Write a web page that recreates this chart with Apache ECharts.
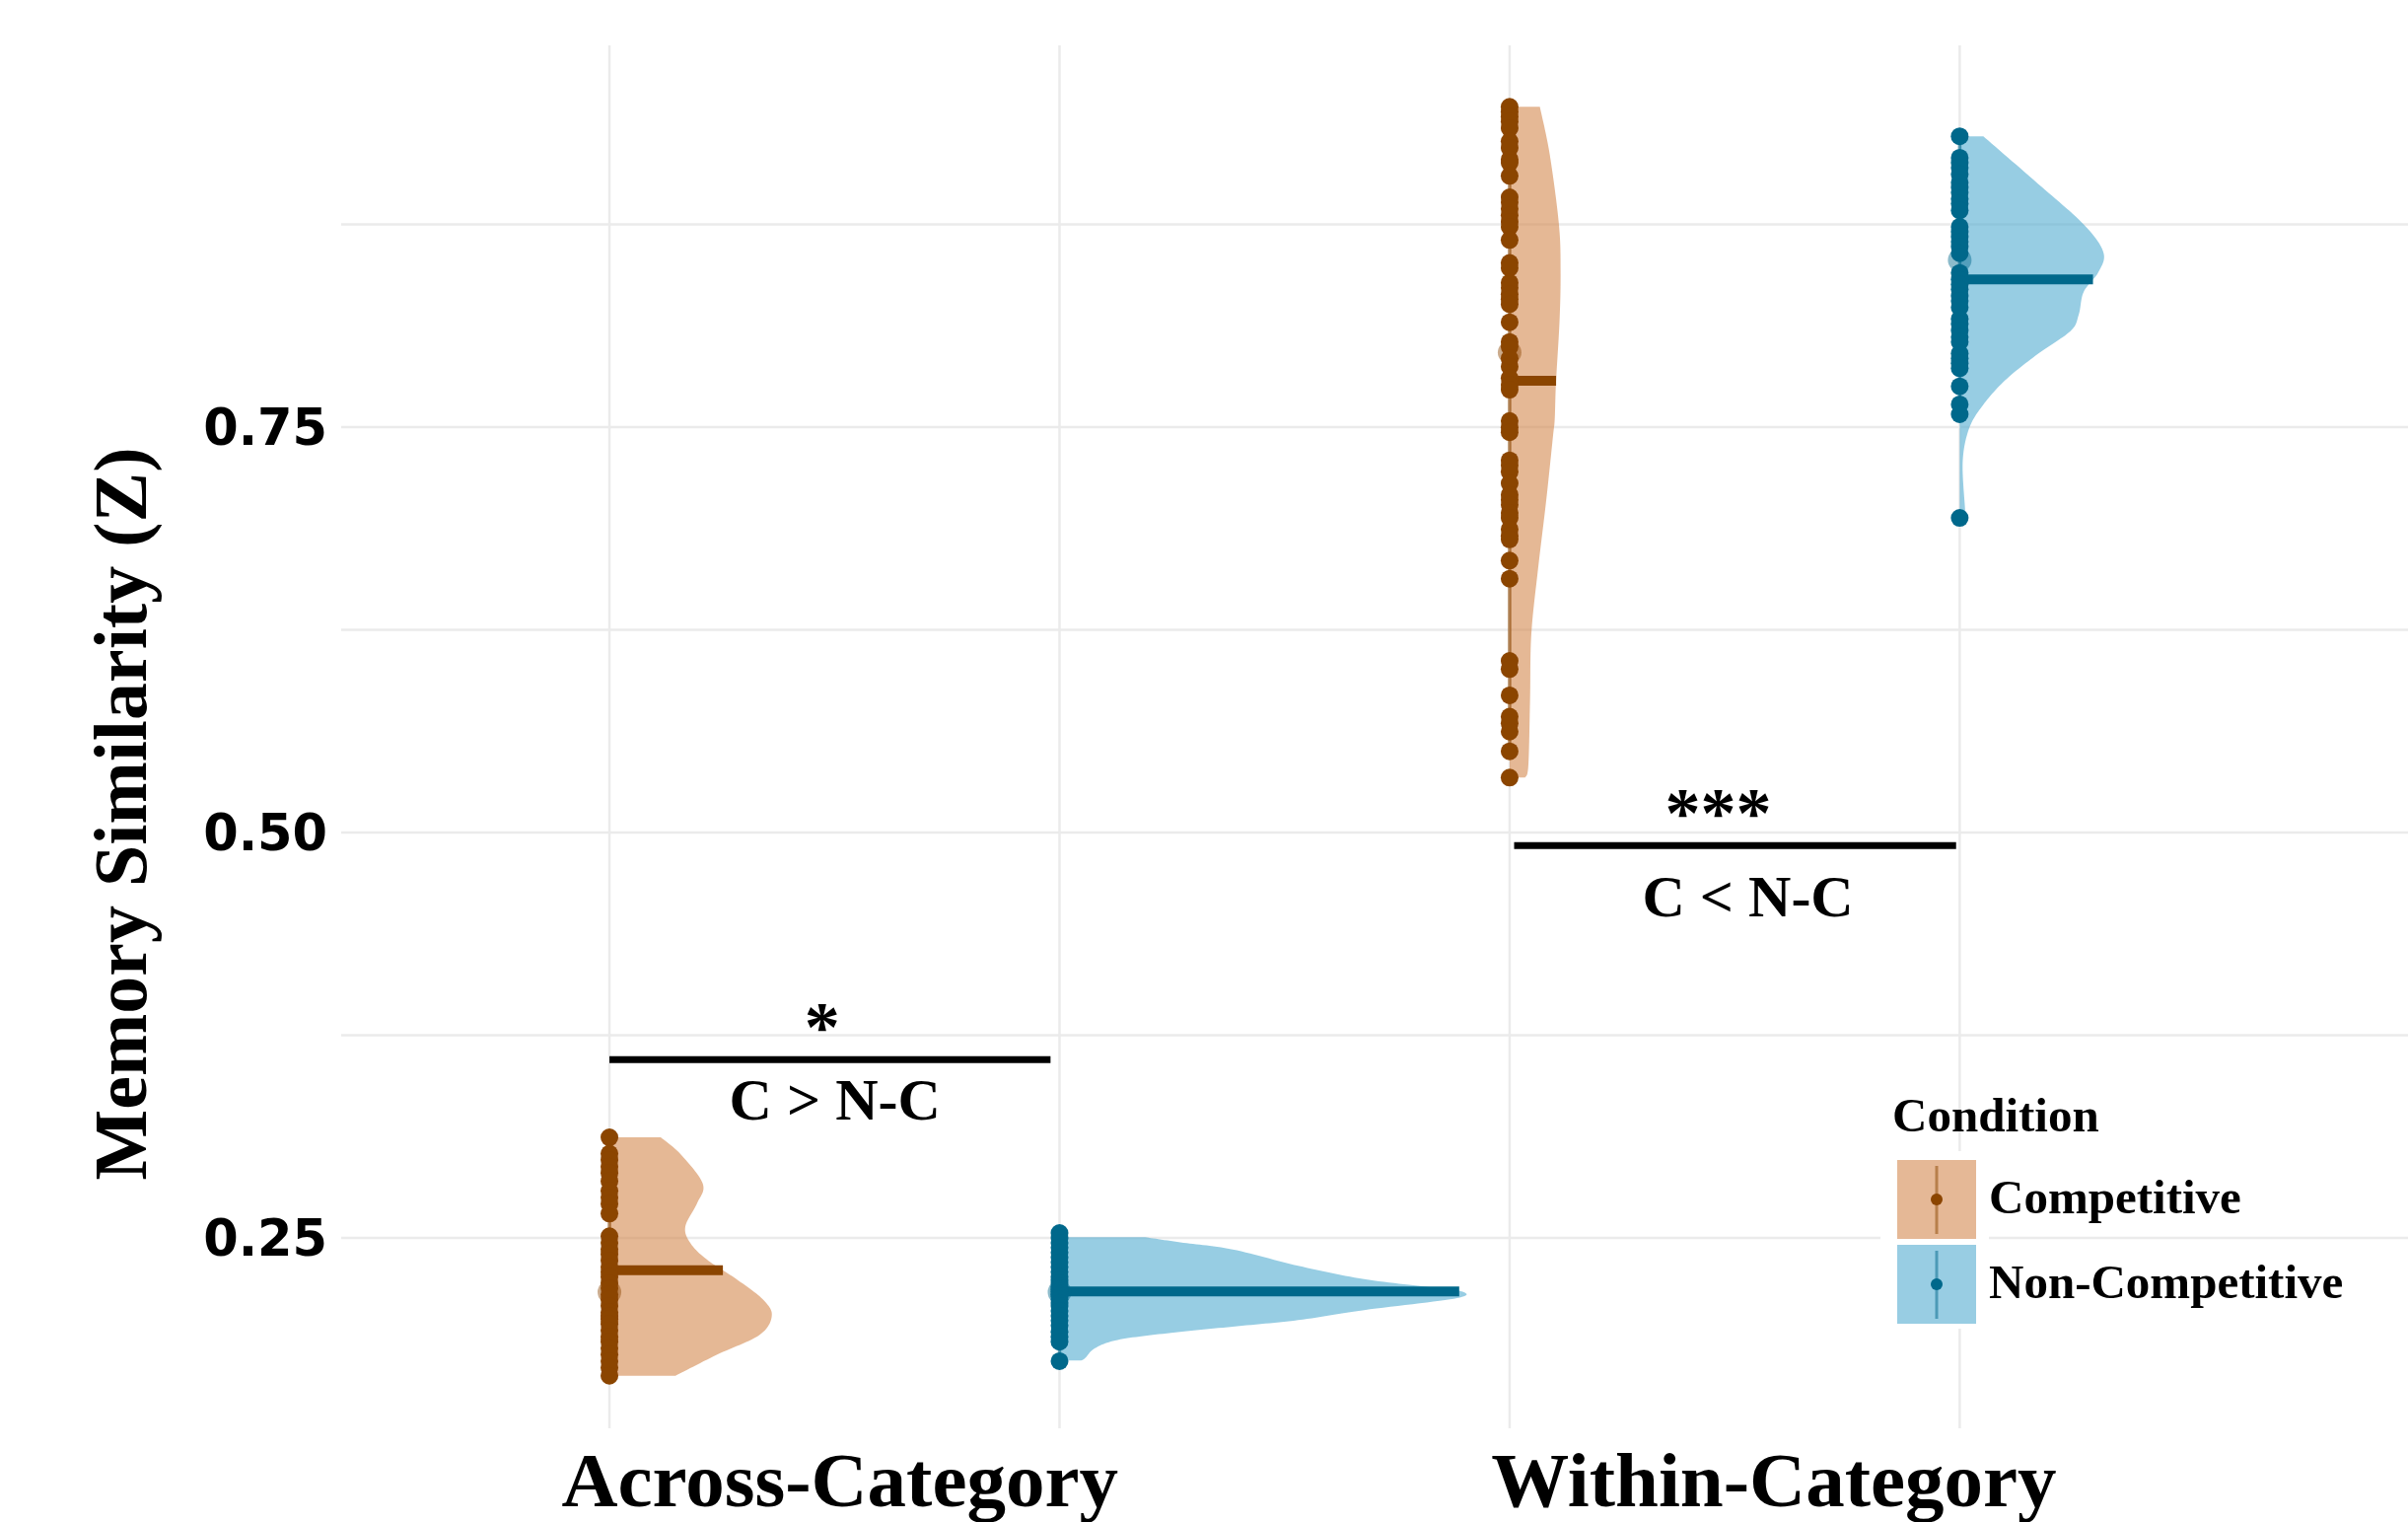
<!DOCTYPE html>
<html><head><meta charset="utf-8">
<script src="https://cdn.jsdelivr.net/npm/echarts@6/dist/echarts.min.js"></script>
<style>html,body{margin:0;padding:0;background:#fff}#main{width:2442px;height:1543px}</style>
</head><body><div id="main"></div>
<script>
// ---------------- DATA ----------------
const categories = ['Across-Category', 'Within-Category'];
const conditions = ['Competitive', 'Non-Competitive'];
const yTickValues = [0.25, 0.5, 0.75];

// individual participant values
const acrossCompetitive = [0.312, 0.302, 0.298, 0.294, 0.290, 0.285, 0.279, 0.275, 0.271, 0.265,
  0.251, 0.247, 0.243, 0.240, 0.236, 0.232, 0.229, 0.226, 0.222, 0.219, 0.215, 0.212, 0.208,
  0.204, 0.202, 0.200, 0.197, 0.193, 0.189, 0.186, 0.182, 0.178, 0.174, 0.170, 0.165];
const acrossNonCompetitive = [0.253, 0.250, 0.247, 0.244, 0.241, 0.238, 0.235, 0.232, 0.229, 0.226,
  0.224, 0.222, 0.220, 0.219, 0.218, 0.217, 0.216, 0.215, 0.214, 0.212, 0.210, 0.208, 0.205,
  0.202, 0.199, 0.196, 0.192, 0.189, 0.186, 0.174];
const withinCompetitive = [0.9475, 0.9445, 0.9414, 0.9384, 0.9343, 0.9262, 0.9221, 0.9150, 0.9130,
  0.9049, 0.8917, 0.8887, 0.8846, 0.8806, 0.8765, 0.8735, 0.8654, 0.8512, 0.8481, 0.8390, 0.8359,
  0.8319, 0.8289, 0.8258, 0.8147, 0.8025, 0.7995, 0.7924, 0.7873, 0.7802, 0.7762, 0.7731, 0.7538,
  0.7498, 0.7468, 0.7295, 0.7265, 0.7224, 0.7153, 0.7082, 0.7052, 0.7021, 0.6971, 0.6940, 0.6869,
  0.6829, 0.6808, 0.6677, 0.6565, 0.6058, 0.6008, 0.5846, 0.5714, 0.5673, 0.5622, 0.5501, 0.5339];
const withinNonCompetitive = [0.9293, 0.9161, 0.9130, 0.9100, 0.9059, 0.9009, 0.8978, 0.8948, 0.8907,
  0.8877, 0.8836, 0.8735, 0.8704, 0.8674, 0.8644, 0.8613, 0.8572, 0.8451, 0.8411, 0.8380, 0.8350,
  0.8309, 0.8279, 0.8238, 0.8167, 0.8137, 0.8096, 0.8055, 0.8025, 0.7954, 0.7924, 0.7894, 0.7863,
  0.7751, 0.7640, 0.7579, 0.6940];

// group order: Across-Comp, Across-NonComp, Within-Comp, Within-NonComp
const medians = [0.2301, 0.2170, 0.7786, 0.8411];
const means = [0.2166, 0.2166, 0.7960, 0.8530];
const intervals = [[0.165, 0.312], [0.178, 0.253], [0.545, 0.945], [0.758, 0.929]];

// half-violin density outlines: [value, half-width in x-axis units]
const violinAcrossCompetitive = [[0.312, 0.0570], [0.3017, 0.0789], [0.2834, 0.1037], [0.2712, 0.0972],
  [0.2570, 0.0843], [0.2469, 0.0898], [0.2367, 0.1081], [0.2246, 0.1410], [0.2124, 0.1698],
  [0.2022, 0.1804], [0.1901, 0.1665], [0.1779, 0.1191], [0.165, 0.0734]];
const violinAcrossNonCompetitive = [[0.2504, 0.0953], [0.2470, 0.1377], [0.2429, 0.1924], [0.2328, 0.2651],
  [0.2246, 0.3384], [0.2196, 0.4115], [0.2166, 0.4490], [0.2125, 0.4380], [0.2055, 0.3384],
  [0.1993, 0.2651], [0.1953, 0.1924], [0.1912, 0.1194], [0.1871, 0.0646], [0.1820, 0.0394],
  [0.1759, 0.0285], [0.1744, 0.0241]];
const violinWithinCompetitive = [[0.9475, 0.0336], [0.918, 0.0446], [0.8748, 0.0548], [0.8464, 0.0566],
  [0.8160, 0.0555], [0.7774, 0.0515], [0.7549, 0.0501], [0.7445, 0.0482], [0.7040, 0.0405],
  [0.6636, 0.0318], [0.6223, 0.0241], [0.5821, 0.0227], [0.5413, 0.0208], [0.5339, 0.0172]];
const violinWithinNonCompetitive = [[0.9293, 0.0263], [0.9003, 0.0865], [0.8750, 0.1377], [0.8578, 0.1596],
  [0.8456, 0.1541], [0.8334, 0.1377], [0.8193, 0.1322], [0.8092, 0.1230], [0.7950, 0.0865],
  [0.7787, 0.0501], [0.7625, 0.0244], [0.7483, 0.0099], [0.7281, 0.0033], [0.6977, 0.0061],
  [0.6940, 0.0055]];

// significance brackets
const significance = [
  { from: 0.75, to: 1.24, y: 0.360, stars: '*', label: 'C > N-C' },
  { from: 1.755, to: 2.246, y: 0.492, stars: '***', label: 'C < N-C' }
];

// ---------------- LAYOUT / STYLE ----------------
const groupPoints = [acrossCompetitive, acrossNonCompetitive, withinCompetitive, withinNonCompetitive];
const groupViolins = [violinAcrossCompetitive, violinAcrossNonCompetitive, violinWithinCompetitive, violinWithinNonCompetitive];
const groupCategoryIdx = [0, 0, 1, 1];
const groupConditionIdx = [0, 1, 0, 1];
const dodge = 0.25;
const groupX = groupCategoryIdx.map((c, i) => (c + 1) + (groupConditionIdx[i] === 0 ? -dodge : dodge));
const xLabelPositions = [1.006, 2.0435];

const darkCol = ['#8B4500', '#00688B'];
const fillCol = ['rgba(211,136,78,0.6)', 'rgba(82,171,208,0.6)'];
const keyFill = ['rgb(229,184,150)', 'rgb(152,205,227)'];
const gridCol = '#EBEBEB';
const SERIF = '"Liberation Serif", "DejaVu Serif", serif';
const SANS = '"DejaVu Sans", sans-serif';

function catmull(pts, steps) {
  const out = [];
  for (let i = 0; i < pts.length - 1; i++) {
    const p0 = pts[Math.max(0, i - 1)], p1 = pts[i], p2 = pts[i + 1], p3 = pts[Math.min(pts.length - 1, i + 2)];
    for (let s = 0; s < steps; s++) {
      const t = s / steps, t2 = t * t, t3 = t2 * t;
      const f = (a, b, c, d) => 0.5 * ((2 * b) + (-a + c) * t + (2 * a - 5 * b + 4 * c - d) * t2 + (-a + 3 * b - 3 * c + d) * t3);
      out.push([f(p0[0], p1[0], p2[0], p3[0]), f(p0[1], p1[1], p2[1], p3[1])]);
    }
  }
  out.push(pts[pts.length - 1]);
  return out;
}
function widthAt(prof, v) {
  for (let i = 0; i < prof.length - 1; i++) {
    const a = prof[i], b = prof[i + 1];
    if ((v <= a[0] && v >= b[0])) {
      const t = (a[0] - v) / (a[0] - b[0]);
      return a[1] + t * (b[1] - a[1]);
    }
  }
  return 0;
}

const chart = echarts.init(document.getElementById('main'), null, { renderer: 'canvas' });

const series = [];
// gridlines
series.push({
  type: 'custom', silent: true, z: 0, data: [[1, 0.5]],
  renderItem: function (params, api) {
    const cs = params.coordSys;
    const children = [];
    [0.25, 0.375, 0.5, 0.625, 0.75, 0.875].forEach(v => {
      const y = api.coord([1, v])[1];
      children.push({ type: 'line', shape: { x1: cs.x, y1: y, x2: cs.x + cs.width, y2: y }, style: { stroke: gridCol, lineWidth: 2.5 } });
    });
    groupX.forEach(x => {
      const px = api.coord([x, 0.5])[0];
      children.push({ type: 'line', shape: { x1: px, y1: cs.y, x2: px, y2: cs.y + cs.height }, style: { stroke: gridCol, lineWidth: 2.5 } });
    });
    return { type: 'group', children };
  }
});
// violins + median bars + intervals
series.push({
  type: 'custom', silent: true, z: 1, data: groupX.map((x, i) => [x, medians[i], i]),
  renderItem: function (params, api) {
    const g = params.dataIndex;
    const x0 = groupX[g];
    const prof = groupViolins[g];
    const edge = prof.map(p => api.coord([x0 + p[1], p[0]]));
    const dense = catmull(edge, 14);
    const pts = [api.coord([x0, prof[0][0]])].concat(dense, [api.coord([x0, prof[prof.length - 1][0]])]);
    const c = groupConditionIdx[g];
    const w = widthAt(prof, medians[g]);
    const a = api.coord([x0, medians[g]]), b = api.coord([x0 + w, medians[g]]);
    const lo = api.coord([x0, intervals[g][0]]), hi = api.coord([x0, intervals[g][1]]);
    return {
      type: 'group', children: [
        { type: 'polygon', shape: { points: pts }, style: { fill: fillCol[c] } },
        { type: 'line', shape: { x1: a[0], y1: a[1], x2: b[0], y2: b[1] }, style: { stroke: darkCol[c], lineWidth: 10 } },
        { type: 'line', shape: { x1: lo[0], y1: lo[1], x2: hi[0], y2: hi[1] }, style: { stroke: darkCol[c], lineWidth: 3.5, opacity: 0.6 } }
      ]
    };
  }
});
// dots
[0, 1].forEach(c => {
  const data = [];
  groupPoints.forEach((arr, g) => { if (groupConditionIdx[g] === c) arr.forEach(v => data.push([groupX[g], v])); });
  series.push({
    type: 'scatter', name: conditions[c], silent: true, z: 3, symbol: 'circle', symbolSize: 18,
    itemStyle: { color: darkCol[c], opacity: 1 }, data
  });
});
// point estimates (faint)
series.push({
  type: 'scatter', silent: true, z: 4, symbolSize: 24,
  data: groupX.map((x, g) => ({ value: [x, means[g]], itemStyle: { color: darkCol[groupConditionIdx[g]], opacity: 0.45 } }))
});
// significance brackets
series.push({
  type: 'custom', silent: true, z: 5, data: significance.map(s => [(s.from + s.to) / 2, s.y]),
  renderItem: function (params, api) {
    const s = significance[params.dataIndex];
    const a = api.coord([s.from, s.y]), b = api.coord([s.to, s.y]);
    const mid = (a[0] + b[0]) / 2;
    const starDx = params.dataIndex === 0 ? -8 : -17;
    const labDx = params.dataIndex === 0 ? 5 : 13;
    const labDy = params.dataIndex === 0 ? 45 : 56;
    return {
      type: 'group', children: [
        { type: 'line', shape: { x1: a[0], y1: a[1], x2: b[0], y2: b[1] }, style: { stroke: '#000', lineWidth: 7 } },
        { type: 'text', x: mid + starDx, y: a[1] - 28, style: { text: s.stars, font: 'bold 72px ' + SERIF, fill: '#000', align: 'center', verticalAlign: 'middle' } },
        { type: 'text', x: mid + labDx, y: a[1] + labDy, style: { text: s.label, font: 'bold 60px ' + SERIF, fill: '#000', align: 'center', verticalAlign: 'middle' } }
      ]
    };
  }
});

// legend (drawn inside the panel) and y-axis title
const legendGraphics = [
  { type: 'rect', shape: { x: 1907, y: 1167, width: 110, height: 180 }, style: { fill: '#fff' }, z: 10 },
  { type: 'text', x: 1919, y: 1134, style: { text: 'Condition', font: 'bold 49px ' + SERIF, fill: '#000', verticalAlign: 'middle' }, z: 11 }
];
conditions.forEach((name, c) => {
  const top = c === 0 ? 1176 : 1262;
  legendGraphics.push(
    { type: 'rect', shape: { x: 1924, y: top, width: 80, height: 80 }, style: { fill: keyFill[c] }, z: 11 },
    { type: 'line', shape: { x1: 1964, y1: top + 6, x2: 1964, y2: top + 75 }, style: { stroke: darkCol[c], lineWidth: 3, opacity: 0.5 }, z: 12 },
    { type: 'circle', shape: { cx: 1964, cy: top + 40, r: 6 }, style: { fill: darkCol[c] }, z: 12 },
    { type: 'text', x: 2017, y: top + 41, style: { text: name, font: 'bold 49px ' + SERIF, fill: '#000', verticalAlign: 'middle' }, z: 11 }
  );
});
legendGraphics.push({
  type: 'text', x: 128, y: 825, rotation: Math.PI / 2,
  style: { text: 'Memory Similarity (Z)', font: 'bold 76px ' + SERIF, fill: '#000', align: 'center', verticalAlign: 'middle' }, z: 11
});

chart.setOption({
  animation: false,
  backgroundColor: '#fff',
  grid: { left: 346, right: 0, top: 46, bottom: 95, containLabel: false, outerBoundsMode: 'none' },
  xAxis: {
    type: 'value', min: 0.452, max: 2.748,
    axisLine: { show: false }, axisTick: { show: false }, splitLine: { show: false },
    axisLabel: {
      customValues: xLabelPositions, formatter: v => categories[Math.round(v) - 1] || '',
      fontFamily: SERIF, fontWeight: 'bold', fontSize: 79, color: '#000', margin: 19
    }
  },
  yAxis: {
    type: 'value', min: 0.1326, max: 0.9854,
    axisLine: { show: false }, axisTick: { show: false }, splitLine: { show: false },
    axisLabel: {
      customValues: yTickValues, formatter: v => v.toFixed(2),
      fontFamily: SANS, fontWeight: 'bold', fontSize: 51, color: '#000', margin: 14,
      verticalAlign: 'top', lineHeight: 10
    }
  },
  graphic: legendGraphics,
  series
});
</script></body></html>
